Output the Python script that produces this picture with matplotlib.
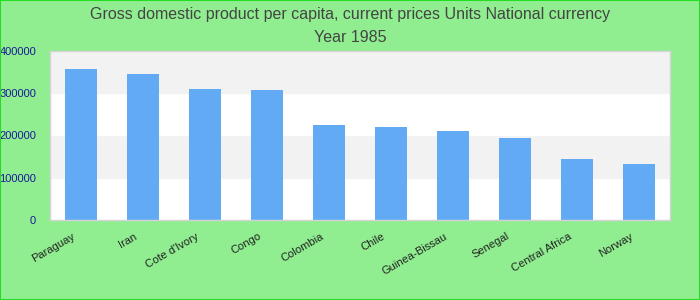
import matplotlib
matplotlib.use('Agg')
import matplotlib.pyplot as plt
import matplotlib.transforms as mtransforms
from matplotlib.patches import Rectangle

countries = ['Paraguay', 'Iran', "Cote d'Ivory", 'Congo', 'Colombia', 'Chile',
             'Guinea-Bissau', 'Senegal', 'Central Africa', 'Norway']
gdp = [357000, 345500, 310000, 307500, 225000, 220000, 210500, 194000, 144000, 132500]
yticks = [0, 100000, 200000, 300000, 400000]

plt.rcParams['font.family'] = ['Liberation Sans', 'DejaVu Sans']

fig = plt.figure(figsize=(7, 3), dpi=100)
fig.patch.set_facecolor('#90ee90')
ax = fig.add_axes([50 / 700, 80 / 300, 620 / 700, 169 / 300])

# alternating bands
for i in range(len(yticks) - 1):
    ax.axhspan(yticks[i], yticks[i + 1], color='white' if i % 2 == 0 else '#f2f2f2', zorder=0)

x = range(len(countries))
ax.bar(x, gdp, width=0.52, color='#63aaf5', zorder=2)

ax.set_xlim(-0.5, len(countries) - 0.5)
ax.set_ylim(0, 400000)
ax.set_yticks(yticks)
ax.set_yticklabels([str(v) for v in yticks], color='#1a1a9a', fontsize=8)
ax.set_xticks(list(x))
ax.set_xticklabels(countries, rotation=30, ha='right', rotation_mode='anchor',
                   fontsize=8, color='#222222')
ax.tick_params(axis='both', length=0)
ax.tick_params(axis='y', pad=10)
ax.tick_params(axis='x', pad=8)
shift = mtransforms.ScaledTranslation(-9 / 100, 0, fig.dpi_scale_trans)
for lab in ax.get_xticklabels():
    lab.set_transform(lab.get_transform() + shift)
for s in ax.spines.values():
    s.set_color('#d4d4d4')
    s.set_linewidth(1)

fig.text(0.5, 1 - 14 / 300, 'Gross domestic product per capita, current prices Units National currency',
         ha='center', va='center', fontsize=11.5, color='#444444')
fig.text(0.5, 1 - 37 / 300, 'Year 1985', ha='center', va='center', fontsize=11.5, color='#444444')

fig.add_artist(Rectangle((0, 0), 1, 1, transform=fig.transFigure, fill=False,
                         edgecolor='#22dd22', linewidth=1.5))

fig.savefig('out.png', dpi=100, facecolor=fig.get_facecolor())
